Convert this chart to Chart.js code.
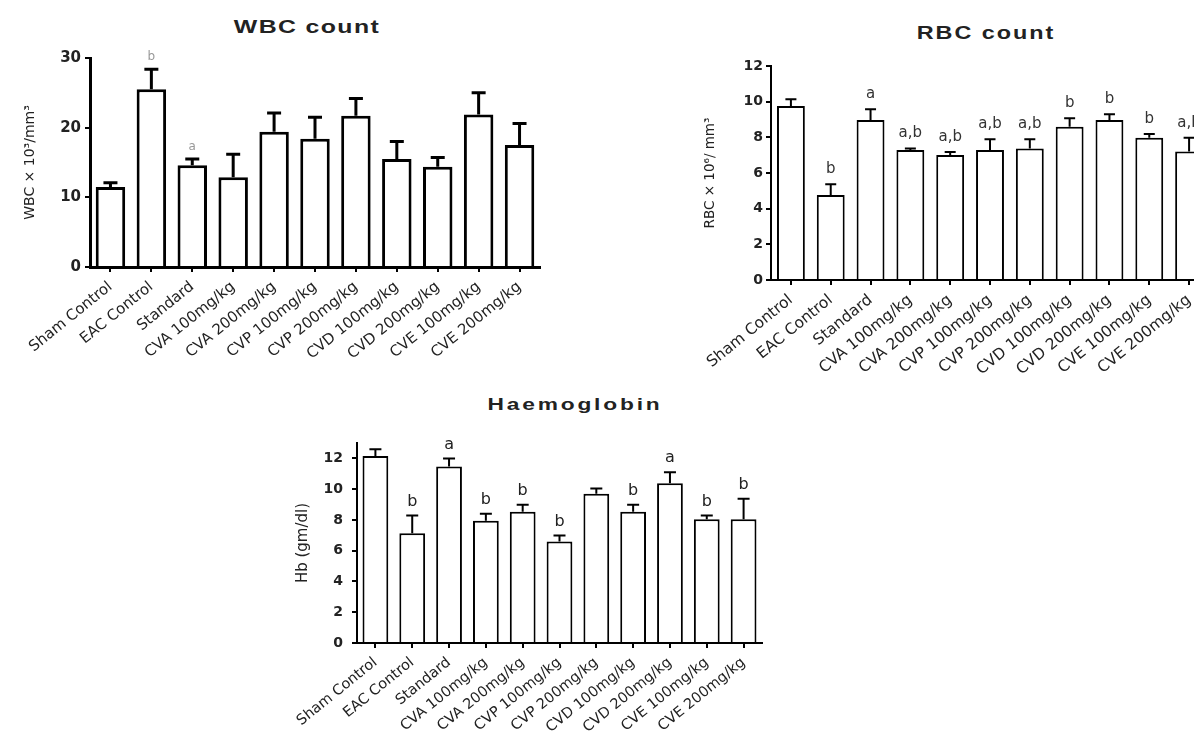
<!DOCTYPE html>
<html>
<head>
<meta charset="utf-8">
<script src="https://cdn.jsdelivr.net/npm/chart.js@4.4.0/dist/chart.umd.min.js"></script>
<style>
html,body{margin:0;padding:0;background:#fff;overflow:hidden;width:1194px;height:738px;position:relative;}
.panel{position:absolute;}
.ttl{position:absolute;font-family:"Liberation Sans",Arial,sans-serif;font-weight:bold;color:#222;white-space:nowrap;}
</style>
</head>
<body>
<div class="ttl" style="left:307px;top:27px;font-size:18px;letter-spacing:1px;transform:translate(-50%,-50%) scaleX(1.38)">WBC count</div>
<div class="ttl" style="left:986px;top:33px;font-size:18px;letter-spacing:1.5px;transform:translate(-50%,-50%) scaleX(1.3)">RBC count</div>
<div class="ttl" style="left:575px;top:405px;font-size:16px;letter-spacing:2px;transform:translate(-50%,-50%) scaleX(1.42)">Haemoglobin</div>

<canvas id="wbc" class="panel" width="570" height="400" style="left:0;top:0"></canvas>
<canvas id="rbc" class="panel" width="540" height="400" style="left:690px;top:0"></canvas>
<canvas id="hb" class="panel" width="500" height="358" style="left:280px;top:380px"></canvas>

<script>
const groups = ["Sham Control","EAC Control","Standard","CVA 100mg/kg","CVA 200mg/kg","CVP 100mg/kg","CVP 200mg/kg","CVD 100mg/kg","CVD 200mg/kg","CVE 100mg/kg","CVE 200mg/kg"];

const wbcMean = [11.5,25.5,14.6,12.9,19.4,18.4,21.7,15.5,14.4,21.9,17.5];
const wbcSem  = [0.6,2.9,0.9,3.3,2.7,3.1,2.5,2.5,1.3,3.1,3.1];
const wbcSig  = ["","b","a","","","","","","","",""];
const wbcTicks = [0,10,20,30];

const rbcMean = [9.76,4.77,8.97,7.29,7.01,7.29,7.38,8.6,8.97,7.98,7.2];
const rbcSem  = [0.37,0.6,0.6,0.09,0.17,0.6,0.51,0.47,0.32,0.21,0.78];
const rbcSig  = ["","b","a","a,b","a,b","a,b","a,b","b","b","b","a,b"];
const rbcTicks = [0,2,4,6,8,10,12];

const hbMean = [12.16,7.14,11.47,7.94,8.53,6.6,9.7,8.53,10.39,8.05,8.05];
const hbSem  = [0.44,1.15,0.53,0.46,0.45,0.39,0.34,0.45,0.71,0.24,1.32];
const hbSig  = ["","b","a","b","b","b","","b","a","b","b"];
const hbTicks = [0,2,4,6,8,10,12];

const FONT = '"DejaVu Sans", "Liberation Sans", Arial, sans-serif';

// error bars + significance letters, drawn through the y scale
const errBars = {
  id: "errBars",
  afterDatasetsDraw(chart, args, o) {
    const ctx = chart.ctx, y = chart.scales.y;
    const meta = chart.getDatasetMeta(0);
    const vals = chart.data.datasets[0].data;
    ctx.save();
    ctx.strokeStyle = "#000";
    ctx.lineWidth = o.lw;
    meta.data.forEach((bar, i) => {
      const yTop = y.getPixelForValue(vals[i] + o.sem[i]);
      const yBar = y.getPixelForValue(vals[i]);
      ctx.beginPath();
      ctx.moveTo(bar.x, yBar);
      ctx.lineTo(bar.x, yTop);
      ctx.moveTo(bar.x - o.cap/2, yTop);
      ctx.lineTo(bar.x + o.cap/2, yTop);
      ctx.stroke();
      if (o.sig[i]) {
        ctx.fillStyle = o.color;
        ctx.font = o.font;
        ctx.textAlign = "center";
        ctx.textBaseline = "middle";
        ctx.fillText(o.sig[i], bar.x, yTop - o.gap);
      }
    });
    ctx.restore();
  }
};

function makeChart(id, cfg) {
  return new Chart(document.getElementById(id), {
    type: "bar",
    data: {
      labels: groups,
      datasets: [{
        data: cfg.mean,
        backgroundColor: "#fff",
        borderColor: "#000",
        borderWidth: cfg.bw,
        categoryPercentage: 1,
        barPercentage: cfg.barPct
      }]
    },
    options: {
      responsive: false,
      animation: false,
      devicePixelRatio: 1,
      layout: { padding: cfg.pad },
      plugins: {
        legend: { display: false },
        tooltip: { enabled: false },
        errBars: { sem: cfg.sem, sig: cfg.sig, cap: cfg.cap, lw: cfg.elw, color: cfg.sigColor, font: cfg.sigFont, gap: cfg.gap }
      },
      scales: {
        x: {
          grid: { display: true, drawOnChartArea: false, offset: false, drawTicks: true, tickLength: 5, color: "#000", lineWidth: 2 },
          border: { display: true, color: "#000", width: cfg.axw },
          ticks: { autoSkip: false, maxRotation: 39, minRotation: 39, color: "#222", padding: cfg.xpad, font: { family: FONT, size: cfg.xfs } },
          afterFit: s => { s.height = cfg.xh; }
        },
        y: {
          min: 0, max: cfg.ymax,
          afterBuildTicks: s => { s.ticks = cfg.ticks.map(v => ({ value: v })); },
          grid: { display: true, drawOnChartArea: false, drawTicks: true, tickLength: 5, color: "#000", lineWidth: 2 },
          border: { display: true, color: "#000", width: cfg.axw },
          ticks: { color: "#222", padding: cfg.ypad, font: { family: FONT, size: cfg.yfs, weight: "bold" } },
          title: { display: true, text: cfg.ylabel, color: "#222", padding: { top: 2, bottom: 2 }, font: { family: FONT, size: cfg.tfs } },
          afterFit: s => { s.width = cfg.yw; }
        }
      }
    },
    plugins: [errBars]
  });
}

makeChart("wbc", {
  mean: wbcMean, sem: wbcSem, sig: wbcSig, ticks: wbcTicks, ymax: 30,
  ylabel: "WBC × 10³/mm³",
  pad: { left: 20, top: 58, right: 30, bottom: 0 }, yw: 70, xh: 133,
  bw: 3, axw: 3, barPct: 0.72, cap: 14, elw: 3, xfs: 15, xpad: 6, yfs: 15, ypad: 4, tfs: 14,
  sigColor: "#999", sigFont: "12px " + FONT, gap: 12
});

makeChart("rbc", {
  mean: rbcMean, sem: rbcSem, sig: rbcSig, ticks: rbcTicks, ymax: 12,
  ylabel: "RBC × 10⁶/ mm³",
  pad: { left: 10, top: 66, right: 21, bottom: 0 }, yw: 71, xh: 120,
  bw: 2, axw: 2, barPct: 0.7, cap: 11, elw: 2, xfs: 15.5, xpad: 6, yfs: 14, ypad: 3, tfs: 13.5,
  sigColor: "#333", sigFont: "15px " + FONT, gap: 15
});

makeChart("hb", {
  mean: hbMean, sem: hbSem, sig: hbSig, ticks: hbTicks, ymax: 13,
  ylabel: "Hb (gm/dl)",
  pad: { left: 12, top: 63, right: 18, bottom: 0 }, yw: 65, xh: 95,
  bw: 2, axw: 2, barPct: 0.7, cap: 12, elw: 2, xfs: 14.5, xpad: 6, yfs: 14, ypad: 9, tfs: 15,
  sigColor: "#222", sigFont: "16px " + FONT, gap: 14
});
</script>
</body>
</html>
